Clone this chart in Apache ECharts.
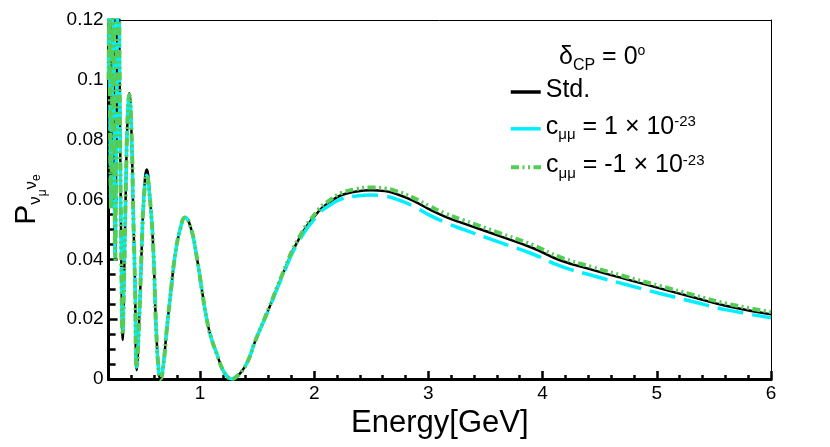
<!DOCTYPE html>
<html>
<head>
<meta charset="utf-8">
<script src="https://cdn.jsdelivr.net/npm/echarts@6/dist/echarts.min.js"></script>
<style>
html,body{margin:0;padding:0;background:#fff}
#graphic{width:830px;height:447px}
</style>
</head>
<body>
<div id="graphic"></div>
<script>
// energy points (GeV)
var energy = [0.200,0.206,0.215,0.222,0.230,0.240,0.250,0.258,0.266,0.276,0.286,0.300,0.312,0.323,0.335,0.352,0.366,0.381,0.400,0.416,0.431,0.446,0.470,0.490,0.510,0.534,0.560,0.591,0.615,0.640,0.655,0.680,0.709,0.750,0.781,0.825,0.870,0.920,0.971,1.020,1.059,1.100,1.147,1.200,1.240,1.278,1.320,1.365,1.423,1.482,1.598,1.716,1.861,2.036,2.150,2.241,2.370,2.500,2.620,2.720,2.860,3.014,3.150,3.306,3.600,3.919,4.153,4.444,4.737,5.028,5.320,5.612,6.000];

// Std.
var pStd = [0.100,0.125,0.075,0.058,0.090,0.130,0.080,0.040,0.070,0.115,0.135,0.085,0.038,0.013,0.032,0.066,0.087,0.0955,0.083,0.055,0.0325,0.003,0.022,0.0437,0.062,0.070,0.062,0.0437,0.018,0.002,0.000,0.005,0.0164,0.031,0.041,0.0498,0.0540,0.0505,0.0410,0.0290,0.0200,0.0135,0.0085,0.0030,0.0008,0.0000,0.0008,0.0025,0.0063,0.0125,0.0230,0.0342,0.0464,0.0559,0.0595,0.0615,0.0627,0.0631,0.0628,0.0618,0.0597,0.0566,0.0542,0.0520,0.0481,0.0437,0.0397,0.0364,0.0333,0.0303,0.0273,0.0244,0.0216];

// c_mumu = 1e-23
var pPlus = [0.100,0.125,0.076,0.058,0.090,0.130,0.080,0.041,0.070,0.115,0.135,0.085,0.039,0.015,0.033,0.066,0.087,0.095,0.083,0.055,0.0325,0.004,0.022,0.0437,0.061,0.068,0.061,0.0437,0.018,0.002,0.000,0.005,0.0164,0.031,0.041,0.0498,0.0540,0.0505,0.0410,0.0290,0.0200,0.0135,0.0085,0.0030,0.0008,0.0000,0.0008,0.0025,0.0063,0.0125,0.0228,0.0338,0.0458,0.0550,0.0584,0.0602,0.0612,0.0615,0.0611,0.0601,0.0579,0.0547,0.0523,0.0500,0.0460,0.0417,0.0378,0.0345,0.0315,0.0286,0.0258,0.0231,0.0205];

// c_mumu = -1e-23
var pMinus = [0.100,0.125,0.075,0.057,0.090,0.130,0.080,0.040,0.070,0.115,0.135,0.085,0.038,0.015,0.032,0.066,0.087,0.095,0.083,0.055,0.0325,0.004,0.022,0.0437,0.061,0.068,0.061,0.0437,0.018,0.002,0.000,0.005,0.0164,0.031,0.041,0.0498,0.0540,0.0505,0.0410,0.0290,0.0200,0.0135,0.0085,0.0030,0.0008,0.0000,0.0008,0.0025,0.0063,0.0125,0.0232,0.0345,0.0468,0.0565,0.0601,0.0622,0.0635,0.0640,0.0637,0.0628,0.0607,0.0577,0.0553,0.0531,0.0491,0.0447,0.0407,0.0373,0.0341,0.0311,0.0281,0.0252,0.0224];

var FONT = 'Liberation Sans';

function pairs(ys){
    var out = [];
    for(var i=0; i<energy.length; i++){
        out.push([energy[i], ys[i]]);
    }
    return out;
}

// legend labels as rich text
var legendText = {
    'Std.': '{t|Std.}',
    'plus': '{t|c}{s|μμ}{t| = 1 × 10}{p|-23}',
    'minus': '{t|c}{s|μμ}{t| = -1 × 10}{p|-23}'
};
var legendRich = {
    t: {fontFamily: FONT, fontSize: 25, lineHeight: 28, color: '#000', padding: [0,0,4,0]},
    s: {fontFamily: FONT, fontSize: 15, lineHeight: 28, color: '#000', padding: [13,0,0,0]},
    p: {fontFamily: FONT, fontSize: 15, lineHeight: 28, color: '#000', padding: [0,0,13,0]}
};

function makeLegend(name, top, lineStyle){
    return {
        data: [name],
        left: 509, top: top,
        orient: 'vertical',
        padding: 0,
        itemWidth: 30, itemHeight: 2,
        selectedMode: false,
        itemStyle: {opacity: 0},
        lineStyle: lineStyle,
        textStyle: {fontFamily: FONT, fontSize: 25, lineHeight: 28, color: '#000', rich: legendRich},
        formatter: function(n){ return legendText[n]; }
    };
}

// thin frame on top / right (own grid), no ticks
function frameAxis(pos, min, max){
    return {
        gridIndex: 1, type: 'value', position: pos, min: min, max: max,
        axisLine: {show: true, onZero: false, lineStyle: {color: '#000', width: 1}},
        axisTick: {show: false}, minorTick: {show: false},
        axisLabel: {show: false}, splitLine: {show: false}
    };
}

// bottom ticks only, on the frame grid (no labels, no name)
var tickAxis = {
    gridIndex: 1, type: 'value', position: 'bottom', min: 0.2, max: 6, splitNumber: 5,
    axisLine: {show: true, onZero: false, lineStyle: {color: '#000', width: 3}},
    axisTick: {show: true, inside: true, length: 8, lineStyle: {color: '#000', width: 2.5}},
    minorTick: {show: true, splitNumber: 5, length: 4, lineStyle: {color: '#000', width: 2.5}},
    axisLabel: {show: false},
    splitLine: {show: false}
};

var gridBox = {left: 108.6, right: 59, top: 20, bottom: 68, outerBoundsMode: 'none'};

var option = {
    animation: false,
    backgroundColor: '#fff',
    grid: [gridBox, gridBox],
    legend: [
        makeLegend('Std.', 77.5, {width: 3.5}),
        makeLegend('plus', 114.3, {width: 3.5, type: 'solid'}),
        makeLegend('minus', 152.7, {width: 4})
    ],
    graphic: [{
        type: 'text', left: 559, top: 40,
        style: {
            text: '{a|δ}{s|CP}{a| = 0}{p|o}',
            rich: {
                a: {fontFamily: FONT, fontSize: 25, lineHeight: 27, fill: '#000'},
                s: {fontFamily: FONT, fontSize: 16, lineHeight: 27, fill: '#000', padding: [18,0,0,0]},
                p: {fontFamily: FONT, fontSize: 14, lineHeight: 27, fill: '#000', padding: [0,0,12,0]}
            }
        }
    }],
    xAxis: [{
        gridIndex: 0, type: 'value', min: 0.2, max: 6, splitNumber: 5,
        name: 'Energy[GeV]', nameLocation: 'middle', nameGap: 28,
        nameTextStyle: {fontFamily: FONT, fontSize: 31, color: '#000'},
        axisLine: {show: true, lineStyle: {color: '#000', width: 3}},
        axisTick: {show: true, inside: true, length: 8, lineStyle: {color: '#000', width: 2.5}},
        minorTick: {show: true, splitNumber: 5, length: 4, lineStyle: {color: '#000', width: 2.5}},
        axisLabel: {showMinLabel: false, margin: 5, fontFamily: FONT, fontSize: 19, color: '#000'},
        splitLine: {show: false}
    }, frameAxis('top', 0.2, 6), tickAxis],
    yAxis: [{
        gridIndex: 0, type: 'value', min: 0, max: 0.12, interval: 0.02,
        name: '{P|P}{n1|ν}{m1|μ}{n2|ν}{m2|e}', nameLocation: 'middle', nameGap: 60, nameRotate: 90,
        nameTextStyle: {
            rich: {
                P: {fontFamily: FONT, fontSize: 30, lineHeight: 44, color: '#000'},
                n1: {fontFamily: FONT, fontSize: 17, lineHeight: 44, color: '#000', padding: [18,0,0,0]},
                m1: {fontFamily: FONT, fontSize: 12, lineHeight: 44, color: '#000', padding: [33,0,0,0]},
                n2: {fontFamily: FONT, fontSize: 17, lineHeight: 44, color: '#000', padding: [10,0,0,0]},
                m2: {fontFamily: FONT, fontSize: 12, lineHeight: 44, color: '#000', padding: [21,0,0,0]}
            }
        },
        axisLine: {show: true, onZero: false, lineStyle: {color: '#000', width: 3}},
        axisTick: {show: true, inside: true, length: 9, lineStyle: {color: '#000', width: 2.5}},
        minorTick: {show: true, splitNumber: 4, length: 7, lineStyle: {color: '#000', width: 2.5}},
        axisLabel: {margin: 5, fontFamily: FONT, fontSize: 19, color: '#000'},
        splitLine: {show: false}
    }, frameAxis('right', 0, 0.12)],
    series: [
        {
            name: 'Std.', type: 'line', symbol: 'none', smooth: true, z: 2,
            lineStyle: {color: '#000', width: 2.5},
            itemStyle: {color: '#000'},
            data: pairs(pStd)
        },
        {
            name: 'plus', type: 'line', symbol: 'none', smooth: true, z: 3,
            lineStyle: {color: '#00f0ff', width: 3.5, type: [26, 9]},
            itemStyle: {color: '#00f0ff'},
            data: pairs(pPlus)
        },
        {
            name: 'minus', type: 'line', symbol: 'none', smooth: true, z: 4,
            lineStyle: {color: '#55cc55', width: 4, type: [8, 3.5, 2, 3.5, 2, 3.5]},
            itemStyle: {color: '#55cc55'},
            data: pairs(pMinus)
        }
    ]
};

var graphic = echarts.init(document.getElementById('graphic'));
graphic.setOption(option);
</script>
</body>
</html>
